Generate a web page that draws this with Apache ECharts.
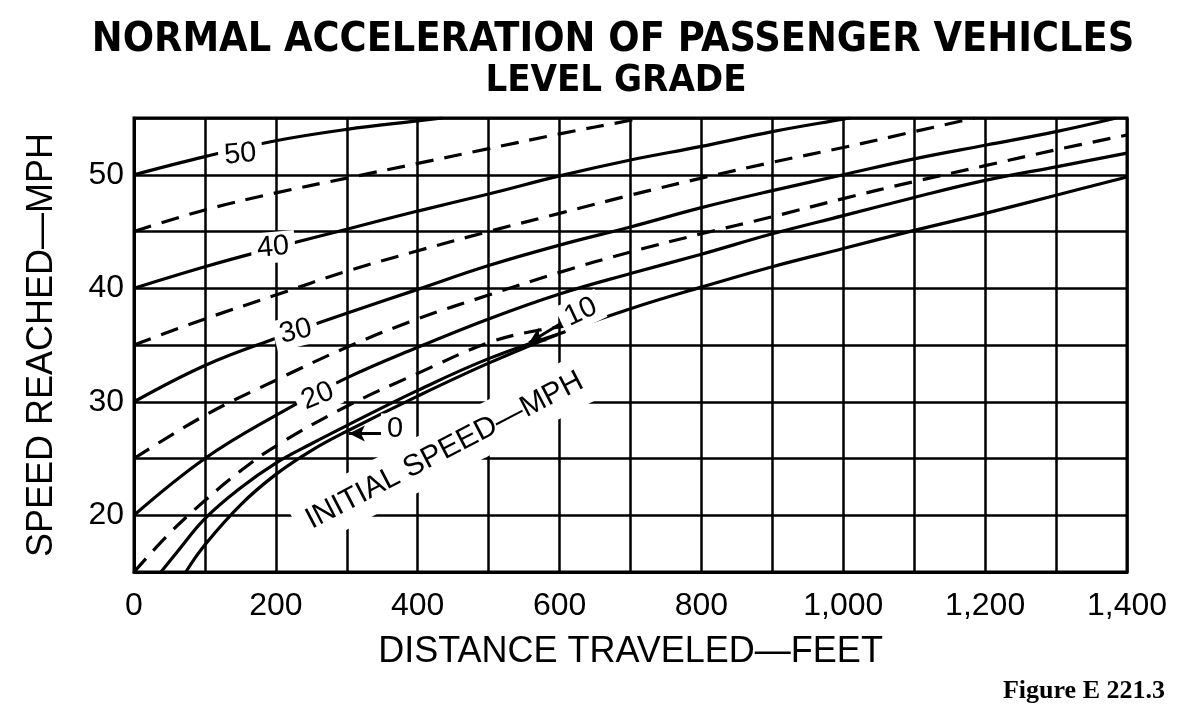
<!DOCTYPE html>
<html style="height: 100%">
<head>
  <meta charset="utf-8">
</head>
<body style="height: 100%; margin: 0; background: #fff">
  <div id="container" style="width: 1200px; height: 706px"></div>

  <script type="text/javascript" src="https://cdn.jsdelivr.net/npm/echarts@6/dist/echarts.min.js"></script>
  <script type="text/javascript">
    // [distance traveled (ft), speed reached (mph)] for each initial speed
    var from50 = [[0, 50], [100, 51.6], [200, 53.0], [300, 54.0], [400, 54.75], [435, 55]];
    var from45 = [[0, 45], [100, 46.9], [200, 48.4], [300, 49.7], [400, 51.0], [500, 52.3], [600, 53.6], [700, 54.8], [715, 55]];
    var from40 = [[0, 40], [100, 41.9], [200, 43.6], [300, 45.2], [400, 46.8], [500, 48.3], [600, 49.9], [700, 51.3], [800, 52.5], [900, 53.8], [1000, 54.9], [1010, 55]];
    var from35 = [[0, 35], [100, 37.3], [200, 39.4], [300, 41.5], [400, 43.3], [500, 45.0], [600, 46.6], [700, 48.2], [800, 49.7], [900, 51.1], [1000, 52.4], [1100, 53.8], [1185, 55]];
    var from30 = [[0, 30], [100, 33.2], [200, 35.6], [300, 37.8], [400, 39.9], [500, 42.0], [600, 43.8], [700, 45.4], [800, 47.1], [900, 48.6], [1000, 50.0], [1100, 51.4], [1200, 52.6], [1300, 53.8], [1385, 55]];
    var from25 = [[0, 25], [100, 28.8], [200, 31.9], [300, 34.8], [400, 37.3], [500, 39.4], [600, 41.4], [700, 43.2], [800, 44.8], [900, 46.3], [1000, 47.9], [1100, 49.4], [1200, 50.8], [1300, 52.2], [1400, 53.5]];
    var from20 = [[0, 20], [100, 25.0], [200, 28.8], [300, 32.1], [400, 34.8], [500, 37.3], [600, 39.5], [700, 41.3], [800, 43.0], [900, 44.8], [1000, 46.4], [1100, 48.0], [1200, 49.5], [1300, 50.7], [1400, 51.9]];
    var from15 = [[0, 15], [50, 18.4], [100, 21.3], [150, 23.9], [200, 26.1], [300, 29.6], [400, 32.5], [500, 35.2], [570, 36.3], [640, 36.9]];
    var from10 = [[38, 15], [60, 16.7], [100, 19.7], [150, 22.4], [200, 24.6], [250, 26.3], [300, 27.9], [400, 31.0], [500, 33.8], [600, 36.0]];
    var from0 = [[73, 15], [100, 17.4], [150, 20.9], [200, 23.6], [250, 25.7], [300, 27.4], [400, 30.5], [500, 33.4], [600, 36.0], [700, 38.2], [800, 40.1], [900, 41.9], [1000, 43.5], [1100, 45.1], [1200, 46.6], [1300, 48.2], [1400, 49.8]];

    var xLabelValues = [0, 200, 400, 600, 800, 1000, 1200, 1400];
    var xLabelTexts = ['0', '200', '400', '600', '800', '1,000', '1,200', '1,400'];
    var yLabelValues = [20, 30, 40, 50];

    var curves = [
      { name: '50', data: from50, dashed: false },
      { name: '45', data: from45, dashed: true },
      { name: '40', data: from40, dashed: false },
      { name: '35', data: from35, dashed: true },
      { name: '30', data: from30, dashed: false },
      { name: '25', data: from25, dashed: true },
      { name: '20', data: from20, dashed: false },
      { name: '15', data: from15, dashed: true },
      { name: '10', data: from10, dashed: false },
      { name: '0', data: from0, dashed: false }
    ];

    // hand lettering on the plot: [text, distance, speed, rotation deg, font size]
    var notes = [
      ['50', 150, 51.8, 5, 29],
      ['40', 196, 43.6, 5, 29],
      ['30', 228, 36.2, 14, 29],
      ['20', 259, 30.5, 22, 29],
      ['10', 630, 37.9, 25, 29],
      ['0', 368, 27.6, 0, 29],
      ['INITIAL SPEED\u2014MPH', 438, 25.7, 27.5, 30]
    ];

    var lettering = '"Liberation Sans", "DejaVu Sans", sans-serif';
    var heading = '"DejaVu Sans Condensed", "Liberation Sans", sans-serif';

    var dom = document.getElementById('container');
    var myChart = echarts.init(dom);

    var series = curves.map(function (c) {
      return {
        name: c.name,
        type: 'line',
        data: c.data,
        symbol: 'none',
        smooth: 0.4,
        animation: false,
        lineStyle: { color: '#000', width: 3.2, type: c.dashed ? [18, 11] : 'solid' },
        z: 3
      };
    });

    // the two little arrows pointing from the labels to their curves
    series[9].markLine = {
      silent: true,
      animation: false,
      symbol: ['none', 'arrow'],
      symbolSize: [12, 16],
      label: { show: false },
      lineStyle: { color: '#000', width: 3, type: 'solid' },
      data: [
        [{ coord: [350, 27.2] }, { coord: [303, 27.2] }],
        [{ coord: [607, 37.1] }, { coord: [557, 35.2] }]
      ]
    };

    var option = {
      backgroundColor: '#fff',
      animation: false,
      title: [
        {
          text: 'NORMAL ACCELERATION OF PASSENGER VEHICLES',
          left: 608, top: 15, textAlign: 'center',
          textStyle: { fontFamily: heading, fontWeight: 'bold', fontSize: 41, color: '#000' }
        },
        {
          text: 'LEVEL GRADE',
          left: 611, top: 57, textAlign: 'center',
          textStyle: { fontFamily: heading, fontWeight: 'bold', fontSize: 38, color: '#000' }
        },
        {
          text: 'Figure E 221.3',
          right: 30, top: 673,
          textStyle: { fontFamily: '"Liberation Serif", "DejaVu Serif", serif', fontWeight: 'bold', fontSize: 26, color: '#000' }
        }
      ],
      grid: { left: 134, right: 73, top: 118, bottom: 134, show: true, borderColor: '#000', borderWidth: 3 },
      xAxis: {
        type: 'value',
        min: 0, max: 1400, interval: 100,
        name: 'DISTANCE TRAVELED\u2014FEET',
        nameLocation: 'middle',
        nameGap: 62,
        nameTextStyle: { fontFamily: lettering, fontSize: 36, color: '#000' },
        axisLine: { show: true, lineStyle: { color: '#000', width: 3 } },
        axisTick: { show: false },
        splitLine: { show: true, lineStyle: { color: '#000', width: 2.5 } },
        axisLabel: {
          margin: 18,
          fontFamily: lettering, fontSize: 32, color: '#000',
          formatter: function (v) {
            var i = xLabelValues.indexOf(v);
            return i < 0 ? '' : xLabelTexts[i];
          }
        }
      },
      yAxis: {
        type: 'value',
        min: 15, max: 55, interval: 5,
        name: 'SPEED REACHED\u2014MPH',
        nameLocation: 'middle',
        nameGap: 74,
        nameRotate: 90,
        nameTextStyle: { fontFamily: lettering, fontSize: 36, color: '#000' },
        axisLine: { show: true, lineStyle: { color: '#000', width: 3 } },
        axisTick: { show: false },
        splitLine: { show: true, lineStyle: { color: '#000', width: 2.5 } },
        axisLabel: {
          margin: 10,
          fontFamily: lettering, fontSize: 32, color: '#000',
          formatter: function (v) {
            return yLabelValues.indexOf(v) < 0 ? '' : String(v);
          }
        }
      },
      series: series
    };

    myChart.setOption(option);

    // place the lettering at data positions, with white paper behind it
    var graphics = notes.map(function (n) {
      var p = myChart.convertToPixel({ gridIndex: 0 }, [n[1], n[2]]);
      var isLong = n[0].length > 3;
      return {
        type: 'text',
        x: p[0], y: p[1],
        rotation: n[3] * Math.PI / 180,
        z: 100,
        silent: true,
        style: {
          text: n[0],
          x: 0, y: 0,
          align: 'center',
          verticalAlign: 'middle',
          font: n[4] + 'px ' + lettering,
          fill: '#000',
          backgroundColor: '#fff',
          padding: isLong ? [15, 12, 5, 12] : [1, 6]
        }
      };
    });
    myChart.setOption({ graphic: graphics });
  </script>
</body>
</html>
